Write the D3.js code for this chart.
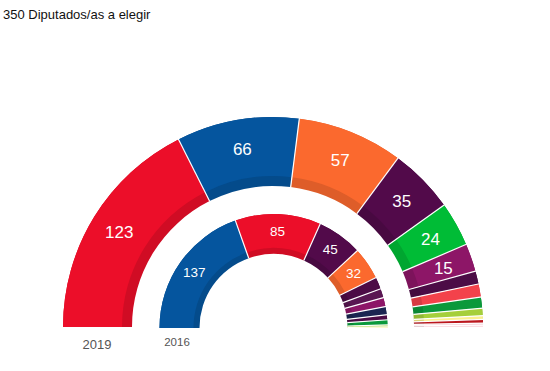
<!DOCTYPE html>
<html>
<head>
<meta charset="utf-8">
<script src="https://cdn.jsdelivr.net/npm/d3@7"></script>
<style>
  body { margin: 0; background: #fff; }
  svg { display: block; font-family: "Liberation Sans", Arial, Helvetica, sans-serif; }
</style>
</head>
<body>
<svg></svg>
<script>
// seats per party
let parties2019 = ["PSOE", "PP", "Cs", "UP", "Vox", "ERC", "ECP", "JxCat", "PNV", "Bildu", "CC", "NA+", "Compromís", "PRC"];
let seats2019 = [123, 66, 57, 35, 24, 15, 7, 7, 6, 4, 2, 2, 1, 1];

let parties2016 = ["PP", "PSOE", "UP", "Cs", "ECP", "Compromís-Podemos", "ERC", "CDC", "En Marea", "PNV", "Bildu", "CC"];
let seats2016 = [137, 85, 45, 32, 12, 9, 9, 8, 5, 5, 2, 1];

let title = "350 Diputados/as a elegir";
let years = ["2019", "2016"];

let partyColors = {
    "PSOE": "#ec0e29",
    "PP": "#05559e",
    "Cs": "#fb692e",
    "UP": "#520a4a",
    "Vox": "#00bc36",
    "ERC": "#8d1667",
    "ECP": "#4c0c46",
    "JxCat": "#f3424b",
    "PNV": "#0a993b",
    "Bildu": "#a5cf3a",
    "CC": "#faf08c",
    "NA+": "#bb161d",
    "Compromís": "#f6c3cf",
    "PRC": "#fbdde3",
    "Compromís-Podemos": "#5a1652",
    "CDC": "#1b2551",
    "En Marea": "#4c0c46"
};

let width = 550;
let height = 371;

let svg = d3.select("svg")
            .attr("width", width)
            .attr("height", height)

svg.append("text")
    .attr("x", 3)
    .attr("y", 19)
    .attr("font-size", 13)
    .attr("fill", "#111")
    .text(title)

let pie = d3.pie()
            .sort(null)
            .startAngle(-Math.PI / 2)
            .endAngle(Math.PI / 2)

function drawRing(parties, seats, cx, cy, rInner, rShade, rOuter, fontSize, minLabel) {
    let data = pie(seats).map((d, i) => Object.assign(d, { party: parties[i] }));
    let g = svg.append("g").attr("transform", "translate(" + cx + "," + cy + ")");

    let outerArc = d3.arc().innerRadius(rShade).outerRadius(rOuter);
    let wholeArc = d3.arc().innerRadius(rInner).outerRadius(rOuter);

    let slices = g.selectAll("g.slice")
                  .data(data)
                  .enter()
                  .append("g")
                  .attr("class", "slice")

    // darker inner band first, lighter part on top
    slices.append("path")
        .attr("d", wholeArc)
        .attr("fill", d => d3.color(partyColors[d.party]).darker(0.35))

    slices.append("path")
        .attr("d", outerArc)
        .attr("fill", d => partyColors[d.party])

    // white radial separators
    g.selectAll("line.sep")
        .data(data.slice(1))
        .enter()
        .append("line")
        .attr("class", "sep")
        .attr("x1", d => rInner * Math.sin(d.startAngle))
        .attr("y1", d => -rInner * Math.cos(d.startAngle))
        .attr("x2", d => (rOuter + 1) * Math.sin(d.startAngle))
        .attr("y2", d => -(rOuter + 1) * Math.cos(d.startAngle))
        .attr("stroke", "#fff")
        .attr("stroke-width", 1.2)

    slices.filter(d => d.value >= minLabel)
        .append("text")
        .attr("transform", d => "translate(" + outerArc.centroid(d) + ")")
        .attr("text-anchor", "middle")
        .attr("dy", "0.36em")
        .attr("font-size", fontSize)
        .attr("fill", "#fff")
        .text(d => d.value)
}

drawRing(parties2019, seats2019, 273, 327, 141, 151, 210, 17, 15);
drawRing(parties2016, seats2016, 273.5, 328, 74, 80, 114, 13.5, 30);

svg.append("text")
    .attr("x", 97)
    .attr("y", 349)
    .attr("text-anchor", "middle")
    .attr("font-size", 13)
    .attr("fill", "#555")
    .text(years[0])

svg.append("text")
    .attr("x", 177)
    .attr("y", 346)
    .attr("text-anchor", "middle")
    .attr("font-size", 11.5)
    .attr("fill", "#555")
    .text(years[1])
</script>
</body>
</html>
